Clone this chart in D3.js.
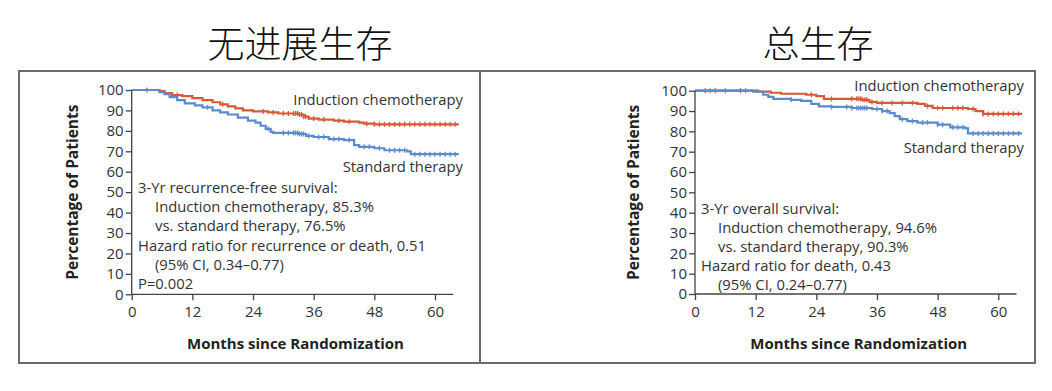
<!DOCTYPE html>
<html>
<head>
<meta charset="utf-8">
<script src="https://cdn.jsdelivr.net/npm/d3@7"></script>
<style>
  body { margin: 0; background: #fff; }
  svg { display: block; }
</style>
</head>
<body>
<svg id="chart" width="1052" height="391"></svg>
<script>
// Kaplan-Meier steps: [month, percent]
const pfsInduction = [[0,100],[5.5,99.5],[6.5,98.5],[8,97.5],[10,97],[12,96],[14,95],[16,94],[17.5,93],[19,92],[20.5,91],[22,90],[24,89.5],[27,89],[29,88.5],[33,88],[34,87],[35,86],[37,85.5],[40,85],[42,84.5],[45,84],[46,83.5],[48,83.2],[64.7,83.2]]
const pfsStandard = [[0,100],[5.5,99],[6.5,98],[7.5,96.5],[9,95],[10.5,93.5],[12.5,92.5],[14,91.5],[16,90],[17.5,89],[19,88],[21,86.5],[23,85],[24.5,84],[25.5,82.5],[26.5,81],[27.5,79.5],[28,79],[33,78.5],[34.5,77.5],[36,77],[39,76],[42,75.5],[44,73],[45,72.2],[48,71.5],[50,70.5],[54.5,70],[55.2,68.6],[64.7,68.6]]
const osInduction = [[0,100],[12.5,99.5],[15,99],[17,98.5],[22,98],[24,97.3],[25.5,96],[33,95.5],[34.5,94.5],[36,94],[44,93.5],[45.5,92.5],[47,91.5],[54,91],[55.5,90],[57,88.6],[64.7,88.6]]
const osStandard = [[0,100],[11.5,99.5],[13.5,98],[14.5,97],[15.5,96],[19,95.5],[21,95],[23,93.5],[24.5,92.3],[27,92],[31,91.5],[35,91],[37,90],[38.5,89],[39.5,87.5],[40.5,86],[42,85],[44,84.3],[48,83.3],[50.5,82],[53.5,81.5],[54,79],[64.7,79]]

// censoring marks (months)
const pfsInductionCensor = [3,9,18,26,28,30,31,32,32.4,32.8,33.2,33.6,34,34.4,36,38,41,43,46.5,48,49,50,51,52,53,54,55,56,57,58,59,60,61,62,63,64]
const pfsStandardCensor = [15,27,30,31,32,32.4,32.8,33.2,33.6,34,35,37,38,40,41,43,46,47,49,51,52,53,54,56,57,58,59,60,61,62,63,64]
const osInductionCensor = [2,4,9,23,27,31,32,32.4,32.8,33.2,33.6,34,35,37,39,41,43,46,48,49,51,52,53,55,57,58,59,60,61,62,63,64]
const osStandardCensor = [3,6,10,19,27,30,31,32,32.4,32.8,33.2,33.6,34,36,37,38,41,43,45,46,48,49,51,52,53,55,56,57,58,59,60,61,62,63,64]

const xTicks = [0, 12, 24, 36, 48, 60]
const yTicks = [0, 10, 20, 30, 40, 50, 60, 70, 80, 90, 100]

const pfsTitle = "无进展生存"
const osTitle = "总生存"
const pfsLabels = ["Induction chemotherapy", "Standard therapy"]
const osLabels = ["Induction chemotherapy", "Standard therapy"]
const pfsStats = [
  {text: "3-Yr recurrence-free survival:", indent: 0},
  {text: "Induction chemotherapy, 85.3%", indent: 1},
  {text: "vs. standard therapy, 76.5%", indent: 1},
  {text: "Hazard ratio for recurrence or death, 0.51", indent: 0},
  {text: "(95% CI, 0.34\u20130.77)", indent: 1},
  {text: "P=0.002", indent: 0},
]
const osStats = [
  {text: "3-Yr overall survival:", indent: 0},
  {text: "Induction chemotherapy, 94.6%", indent: 1},
  {text: "vs. standard therapy, 90.3%", indent: 1},
  {text: "Hazard ratio for death, 0.43", indent: 0},
  {text: "(95% CI, 0.24\u20130.77)", indent: 1},
]

const redColor = "#d55a35"
const blueColor = "#5b8bcd"
const textColor = "#333"
const fontFamily = "'Open Sans', 'Noto Sans', sans-serif"
const fontSize = 14.8

const svg = d3.select("#chart")

function stepValue(series, t) {
  let v = series[0][1]
  for (const p of series) { if (p[0] <= t) v = p[1]; else break }
  return v
}

function drawPanel(cfg) {
  const x = d3.scaleLinear().domain([0, 60]).range([cfg.x0, cfg.x60])
  const y = d3.scaleLinear().domain([0, 100]).range([cfg.y0, cfg.y100])

  // panel frame
  svg.append("rect")
    .attr("x", cfg.box[0]).attr("y", cfg.box[1])
    .attr("width", cfg.box[2]).attr("height", cfg.box[3])
    .attr("fill", "none").attr("stroke", "#6b6b6b").attr("stroke-width", 2)

  svg.append("text")
    .attr("x", cfg.titleX).attr("y", 42)
    .attr("text-anchor", "middle").attr("dominant-baseline", "central")
    .attr("font-family", "'Noto Sans CJK SC', sans-serif")
    .attr("font-size", 37).attr("font-weight", 300).attr("fill", "#111")
    .text(cfg.title)

  const g = svg.append("g")

  // curves
  const line = d3.line().x(d => x(d[0])).y(d => y(d[1])).curve(d3.curveStepAfter)
  cfg.series.forEach(s => {
    g.append("path").datum(s.data)
      .attr("fill", "none").attr("stroke", s.color).attr("stroke-width", 2.2)
      .attr("d", line)
    g.selectAll(null).data(s.censor).join("line")
      .attr("x1", d => x(d)).attr("x2", d => x(d))
      .attr("y1", d => y(stepValue(s.data, d)) - 2.5)
      .attr("y2", d => y(stepValue(s.data, d)) + 2.5)
      .attr("stroke", s.color).attr("stroke-width", 1.3)
  })

  // axes
  const yAxis = d3.axisLeft(y).tickValues(yTicks).tickSize(6).tickPadding(2)
  const xAxis = d3.axisBottom(x).tickValues(xTicks).tickSize(6).tickPadding(6)
  const ya = g.append("g").attr("transform", `translate(${cfg.x0},0)`).call(yAxis)
  const xa = g.append("g").attr("transform", `translate(0,${cfg.y0})`).call(xAxis)
  ya.select(".domain").attr("d", `M0,${cfg.y0}V${cfg.y100}`)
  xa.select(".domain").attr("d", `M${cfg.x0},0H${x(63.6)}`)
  ;[ya, xa].forEach(a => {
    a.selectAll(".domain, .tick line").attr("stroke", "#444").attr("stroke-width", 1.3)
    a.selectAll("text").attr("font-family", fontFamily).attr("font-size", 15).attr("fill", textColor)
  })

  // axis titles
  svg.append("text")
    .attr("x", (cfg.x0 + x(63.6)) / 2 + 3).attr("y", 343)
    .attr("text-anchor", "middle").attr("dominant-baseline", "central")
    .attr("font-family", fontFamily).attr("font-weight", 700).attr("font-size", 15)
    .attr("fill", "#222").text("Months since Randomization")
  svg.append("text")
    .attr("transform", `translate(${cfg.yTitleX},${(cfg.y0 + cfg.y100) / 2}) rotate(-90)`)
    .attr("text-anchor", "middle").attr("dominant-baseline", "central")
    .attr("font-family", fontFamily).attr("font-weight", 700).attr("font-size", 15.5)
    .attr("fill", "#222").text("Percentage of Patients")

  // curve labels
  cfg.labels.forEach((t, i) => {
    svg.append("text")
      .attr("x", cfg.labelRight).attr("y", cfg.labelY[i])
      .attr("text-anchor", "end").attr("dominant-baseline", "central")
      .attr("font-family", fontFamily).attr("font-size", fontSize).attr("fill", textColor)
      .text(t)
  })

  // statistics block
  svg.append("g").selectAll("text").data(cfg.stats).join("text")
    .attr("x", d => cfg.statsX + d.indent * 17)
    .attr("y", (d, i) => cfg.statsY + i * cfg.statsGap)
    .attr("dominant-baseline", "central")
    .attr("font-family", fontFamily).attr("font-size", fontSize).attr("fill", textColor)
    .text(d => d.text)
}

drawPanel({
  box: [19, 71, 461, 292], title: pfsTitle, titleX: 300,
  x0: 131.7, x60: 435, y0: 294.3, y100: 90, yTitleX: 72,
  series: [
    {data: pfsInduction, censor: pfsInductionCensor, color: redColor},
    {data: pfsStandard, censor: pfsStandardCensor, color: blueColor},
  ],
  labels: pfsLabels, labelRight: 463, labelY: [99, 166],
  stats: pfsStats, statsX: 138, statsY: 187, statsGap: 19.2,
})

drawPanel({
  box: [480, 71, 555, 292], title: osTitle, titleX: 818,
  x0: 695, x60: 998.3, y0: 294, y100: 90.7, yTitleX: 633,
  series: [
    {data: osInduction, censor: osInductionCensor, color: redColor},
    {data: osStandard, censor: osStandardCensor, color: blueColor},
  ],
  labels: osLabels, labelRight: 1024, labelY: [85, 147],
  stats: osStats, statsX: 701, statsY: 208, statsGap: 19,
})
</script>
</body>
</html>
